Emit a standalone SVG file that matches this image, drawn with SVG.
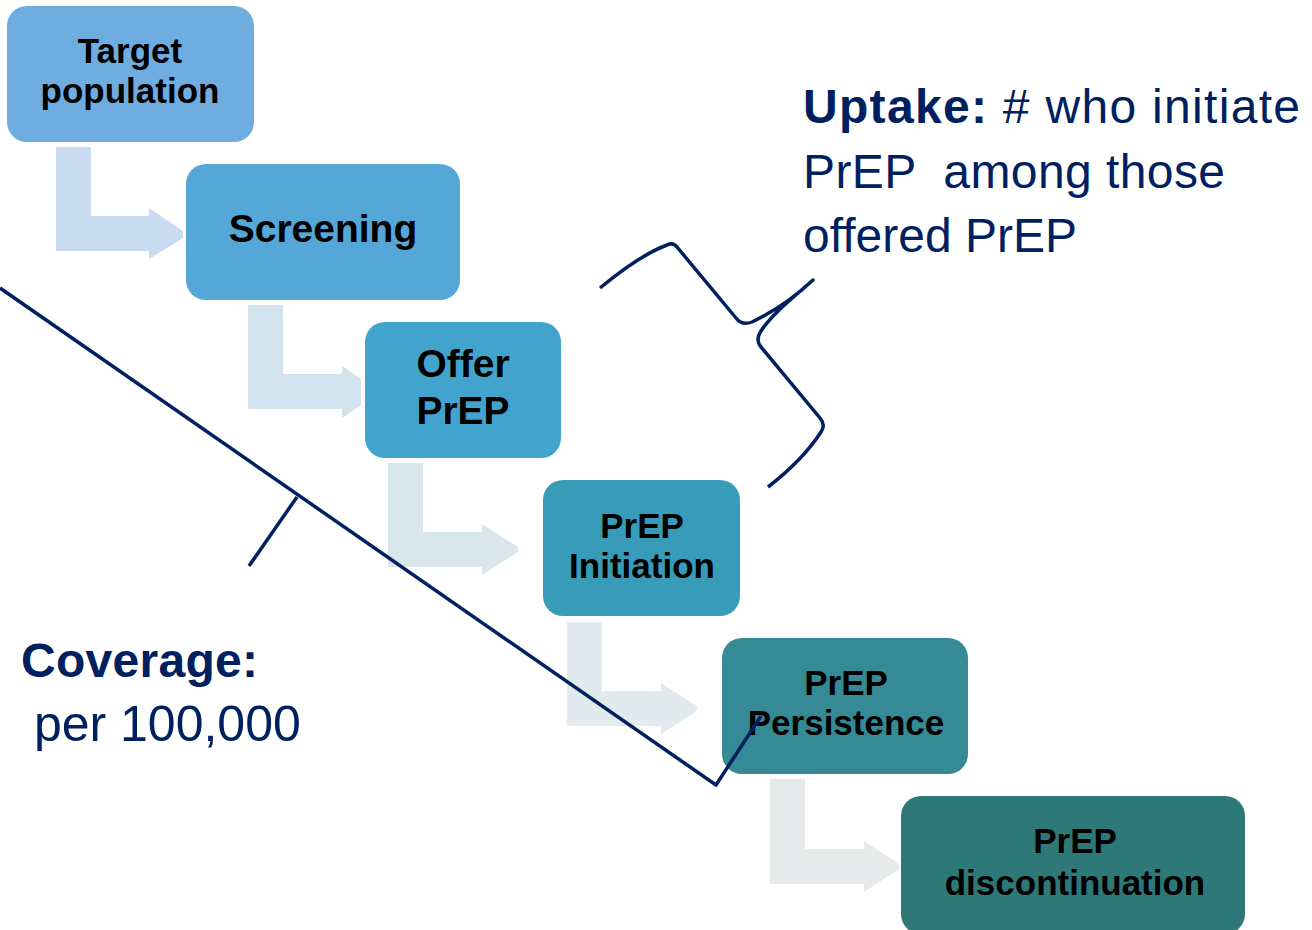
<svg xmlns="http://www.w3.org/2000/svg" width="1312" height="930" viewBox="0 0 1312 930">
<defs>
<style>
.box{stroke:none}
.nt{font-family:"Liberation Sans",Arial,sans-serif;font-weight:bold;fill:#000;text-anchor:middle}
.nav{font-family:"Liberation Sans",Arial,sans-serif;fill:#002060;white-space:pre}
.b{font-weight:bold}
.ln{fill:none;stroke:#002060;stroke-width:3.5;stroke-linejoin:round;stroke-linecap:butt}
</style>
</defs>
<rect width="1312" height="930" fill="#fff"/>
<g id="arrows">
<polygon points="56,147 91,147 91,216 149,216 149,208 183,231 183,238 149,259 149,251 56,251" fill="#C8DBF1"/>
<polygon points="248,305 283,305 283,374 342,374 342,366 361,379 361,405 342,418 342,409 248,409" fill="#D2E3EE"/>
<polygon points="388,463 423,463 423,532 482,532 482,524 518,547 518,552 482,575 482,567 388,567" fill="#D9E6EC"/>
<polygon points="567,622 602,622 602,691 661,691 661,683 697,706 697,711 661,734 661,726 567,726" fill="#E1EAEC"/>
<polygon points="770,779 805,779 805,849 864,849 864,841 899,864 899,869 864,892 864,884 770,884" fill="#E7EAEB"/>
</g>
<g id="n1"><rect class="box" x="7" y="6" width="247" height="136" rx="20" fill="#6FACE0"/>
<text class="nt" font-size="35"><tspan x="130" y="63">Target</tspan><tspan x="130" y="103">population</tspan></text></g>
<g id="n2"><rect class="box" x="186" y="164" width="274" height="136" rx="20" fill="#55A7D8"/>
<text class="nt" font-size="39" x="323" y="242">Screening</text></g>
<g id="n3"><rect class="box" x="365" y="322" width="196" height="136" rx="20" fill="#42A4CD"/>
<text class="nt" font-size="39"><tspan x="463" y="377">Offer</tspan><tspan x="463" y="424">PrEP</tspan></text></g>
<g id="n4"><rect class="box" x="543" y="480" width="197" height="136" rx="20" fill="#389CB8"/>
<text class="nt" font-size="35"><tspan x="642" y="538">PrEP</tspan><tspan x="642" y="578">Initiation</tspan></text></g>
<g id="n5"><rect class="box" x="722" y="638" width="246" height="136" rx="20" fill="#358A95"/>
<text class="nt" font-size="35"><tspan x="846" y="695">PrEP</tspan><tspan x="846" y="735">Persistence</tspan></text></g>
<g id="n6"><rect class="box" x="901" y="796" width="344" height="138" rx="20" fill="#2F7878"/>
<text class="nt" font-size="35"><tspan x="1075" y="853">PrEP</tspan><tspan x="1075" y="895">discontinuation</tspan></text></g>
<g id="lines">
<path class="ln" d="M0,288 L716,785 L761,716"/>
<path class="ln" d="M297,497 L249,566"/>
<path class="ln" d="M600,288 Q640,255 667,245 Q673,242 677,247 L736,318 Q742,326 752,322 C775,311 795,297 813,280 C795,296 772,314 761,331 Q755,340 761,347 L820,418 Q826,425 821,432 C808,452 790,470 768,487"/>
</g>
<g id="labels">
<text class="nav" font-size="48" x="803" y="123" textLength="497" lengthAdjust="spacing"><tspan class="b">Uptake:</tspan> # who initiate</text>
<text class="nav" font-size="48" x="803" y="188" textLength="422" lengthAdjust="spacing">PrEP  among those</text>
<text class="nav" font-size="48" x="803" y="252">offered PrEP</text>
<text class="nav b" font-size="48" x="21" y="677" textLength="237" lengthAdjust="spacing">Coverage:</text>
<text class="nav" font-size="50" x="20" y="741"> per 100,000</text>
</g>
</svg>
